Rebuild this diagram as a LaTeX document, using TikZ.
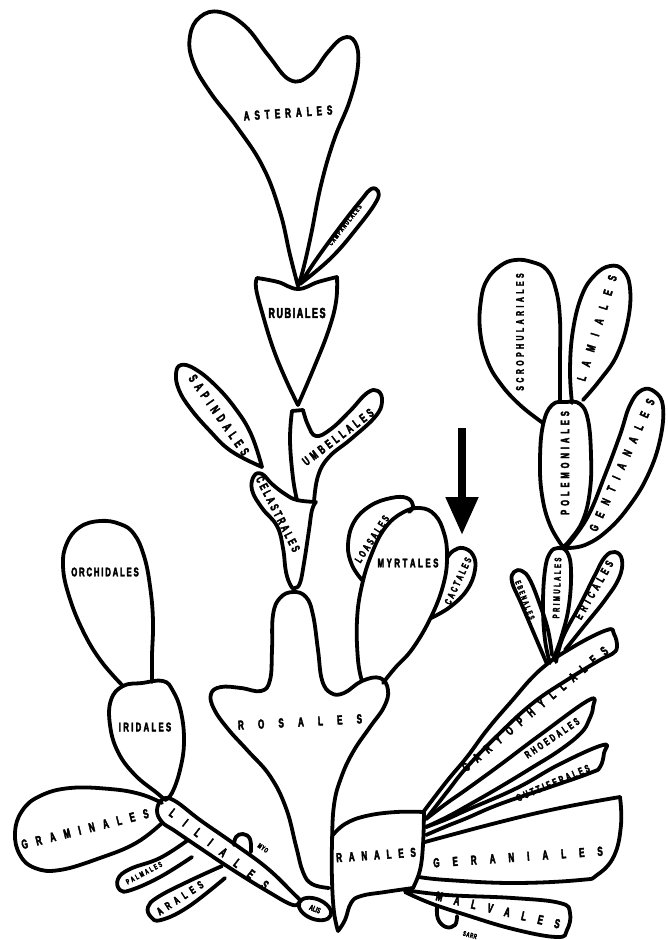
\documentclass[tikz,border=0pt]{standalone}
\usepackage{fontspec}
\usetikzlibrary{arrows.meta,shapes.geometric}
\newfontfamily\labf{Liberation Sans}[FakeStretch=0.62, FakeBold=3]
\ExplSyntaxOn
\NewDocumentCommand{\lsp}{m m}{\tl_map_inline:nn {#2}{##1\kern#1pt}\unkern}
\ExplSyntaxOff
\newcommand\lfs[1]{\fontsize{#1}{#1}\selectfont}
\tikzset{
  outl/.style={line width=3.8pt, line cap=round, line join=round},
  lab/.style={inner sep=0pt, font=\labf\bfseries\lfs{#1}},
  sm/.style={smooth, tension=0.7}
}
\begin{document}
\begin{tikzpicture}[x=1pt, y=-1pt]
\fill[white] (0,0) rectangle (667,940);
\useasboundingbox (0,0) rectangle (667,940);

% ---------- central axis ----------
% Asterales
\draw[outl] plot[sm] coordinates {(298,286) (290,255) (280,212) (263,167) (237,127) (210,92) (193,62) (190,36) (200,17) (220,12) (245,26) (268,55) (290,80) (310,75) (328,52) (343,38) (355,42) (358,65) (350,100) (334,140) (321,185) (311,235) (303,270) (298,286)};
% Campanulales
\draw[outl] plot[sm] coordinates {(300,284) (318,257) (343,223) (362,199) (371,189) (378,191) (376,202) (357,228) (331,258) (300,284)};
% Rubiales
\draw[outl] plot[sm] coordinates {(298,405) (286,380) (273,348) (262,312) (256,288) (257,278)};
\draw[outl] plot[sm] coordinates {(257,278) (278,282) (298,289) (318,282) (337,277)};
\draw[outl] plot[sm] coordinates {(337,277) (336,302) (328,332) (313,370) (298,405)};
% Umbellales with stem
\draw[outl] (292,411) -- (303,410);
\draw[outl] plot[sm] coordinates {(303,410) (308,425) (316,436) (331,429) (350,411) (367,393) (378,391) (382,402) (375,417) (351,439) (329,457) (318,476) (314,502)};
\draw[outl] plot[sm] coordinates {(292,411) (290,440) (293,478) (297,500)};
% Sapindales
\draw[outl] plot[sm] coordinates {(262,467) (251,434) (235,408) (215,385) (195,369) (181,365) (176,374) (179,390) (190,408) (209,430) (231,451) (262,467)};
% Celastrales
\draw[outl] plot[sm] coordinates {(316,502) (297,500) (285,494) (272,484) (262,474) (254,476) (252,490) (262,508) (277,526) (283,548) (286,572) (291,586) (295,588) (300,583) (304,563) (309,530) (312,510) (316,502)};
% Rosales
\draw[outl] plot[sm] coordinates {(329,888) (312,884) (303,872) (296,846) (286,808) (270,776) (248,751) (228,729) (214,709) (211,694) (221,687) (241,688) (261,691) (270,680) (272,650) (273,615) (280,598) (293,592) (306,597) (313,615) (318,650) (322,680) (331,693) (344,693) (362,681) (380,678) (388,690) (384,707) (370,727) (353,752) (341,778) (334,805) (332,843) (332,880) (334,912) (338,931)};
% Ranales
\draw[outl] plot[sm] coordinates {(332,836) (345,824) (366,816) (396,812) (424,812)};
\draw[outl] plot[sm] coordinates {(424,812) (423,845) (420,870) (413,888)};
\draw[outl] plot[sm] coordinates {(413,888) (385,892) (361,896) (351,903) (345,920) (338,931)};
% Alismatales
\node[draw, outl, ellipse, minimum width=34pt, minimum height=20pt, inner sep=0pt, rotate=-22, font=\labf\bfseries\lfs{8}] (alis) at (315,909) {ALIS};

% ---------- left (monocots) ----------
\draw[outl] plot[sm] coordinates {(123,686) (101,661) (83,631) (69,596) (63,566) (67,543) (80,527) (100,521) (120,524) (134,534) (144,556) (150,586) (153,621) (152,656) (152,682)};
\draw[outl] plot[sm] coordinates {(165,800) (157,793) (135,775) (118,752) (110,725) (111,700) (123,686) (142,683) (163,681) (173,691) (181,712) (184,742) (180,770) (172,793) (165,800)};
% Graminales
\draw[outl] plot[sm] coordinates {(162,803) (140,794) (110,789) (70,788) (40,796) (22,811) (15,833) (20,855) (35,868) (60,870) (100,858) (136,843) (162,823)};
% Liliales
\draw[outl] plot[sm] coordinates {(300,900) (293,893) (267,868) (233,843) (200,820) (175,801) (163,799) (157,810) (162,822) (175,831) (200,848) (233,870) (267,891) (293,905) (300,900)};
% Myo loop
\draw[outl] plot[sm] coordinates {(234,845) (236,837) (243,834) (250,839) (251,852)};
% Palmales
\draw[outl] plot[sm] coordinates {(188,840) (160,858) (130,869) (118,879) (120,890) (131,890) (160,877) (192,857)};
% Arales
\draw[outl] plot[sm] coordinates {(222,866) (187,882) (158,897) (148,907) (151,917) (161,920) (188,907) (225,878)};

% ---------- Myrtales group ----------
\draw[outl] plot[sm] coordinates {(362,681) (358,660) (357,620) (362,585) (372,553) (385,528) (402,513) (420,508) (435,515) (444,533) (447,555) (444,582) (432,615) (413,648) (395,668) (383,683)};
\draw[outl] plot[sm] coordinates {(362,580) (352,565) (348,545) (354,522) (370,506) (391,498) (407,498) (413,506) (409,512)};
\draw[outl] plot[sm] coordinates {(431,618) (450,607) (467,590) (475,570) (473,555) (463,548) (453,551) (447,558)};
% arrow
\coordinate (arA) at (462,428);
\coordinate (arB) at (462,535);
\draw[line width=8pt, -{Triangle[length=38pt, width=31pt]}] (arA) -- (arB);

% ---------- right (sympetalae) ----------
\draw[outl] plot[sm] coordinates {(543,423) (520,405) (500,383) (487,360) (480,330) (481,300) (487,280) (500,266) (515,260) (532,262) (547,270) (556,290) (560,320) (560,360) (560,402)};
\draw[outl] plot[sm] coordinates {(572,403) (570,370) (573,330) (582,295) (595,275) (610,266) (623,270) (630,288) (628,320) (617,355) (600,380) (583,400)};
\draw[outl] plot[sm] coordinates {(563,547) (550,525) (542,495) (540,460) (543,425) (552,405) (566,402) (580,404) (588,420) (591,455) (590,490) (583,520) (570,540) (563,547)};
\draw[outl] plot[sm] coordinates {(565,548) (587,518) (605,475) (620,435) (630,405) (642,390) (655,392) (663,407) (660,440) (648,475) (630,505) (608,530) (585,545) (565,548)};
% Primulales, Ebenales, Ericales
\draw[outl] plot[sm] coordinates {(550,663) (545,640) (543,605) (545,570) (550,553) (558,548) (567,552) (571,570) (569,605) (562,635) (553,660)};
\draw[outl] plot[sm] coordinates {(547,664) (535,636) (521,603) (512,582) (514,572) (522,571) (530,580) (540,605) (548,630) (552,655)};
\draw[outl] plot[sm] coordinates {(556,662) (563,637) (580,605) (595,575) (605,557) (615,552) (622,560) (619,578) (605,600) (585,625) (565,650)};
% Caryophyllales
\draw[outl] plot[sm] coordinates {(424,811) (447,781) (467,757) (487,730) (510,703) (540,670) (573,647) (607,630) (614,634) (617,647) (612,654) (600,660) (567,680) (533,703) (500,733) (467,767) (447,792) (426,819)};
% Rhoedales
\draw[outl] plot[sm] coordinates {(426,819) (447,803) (467,789) (500,765) (540,735) (589,700) (593,707) (589,720) (581,733) (560,750) (533,767) (500,787) (467,806) (447,817) (426,827)};
% Guttiferales
\draw[outl] plot[sm] coordinates {(426,827) (447,819) (467,810) (517,788) (560,764) (603,745) (604,753) (600,767) (590,773) (550,787) (500,804) (467,818) (447,826) (426,835)};
% Geraniales
\draw[outl] plot[sm] coordinates {(425,842) (500,822) (560,808) (620,797)};
\draw[outl] plot[sm] coordinates {(620,797) (621,825) (614,856) (597,875) (580,880) (513,883) (447,880) (419,877)};
% Malvales
\draw[outl] plot[sm] coordinates {(405,890) (447,895) (513,898) (560,903) (570,913) (567,930) (557,937) (513,929) (463,914) (430,903) (405,892)};
% Sarr loop
\draw[outl] plot[sm] coordinates {(437,906) (438,919) (446,927) (455,925) (457,916)};

% ---------- labels ----------
\node[lab=13, rotate=4] (tAst) at (288,113) {\lsp{5}{ASTERALES}};
\node[lab=7, rotate=52] (tCam) at (345,225) {\lsp{1.2}{CAMPANULALES}};
\node[lab=14.5] (tRub) at (297,313) {\lsp{1.6}{RUBIALES}};
\node[lab=13, rotate=-55] (tSap) at (219,415) {\lsp{4.8}{SAPINDALES}};
\node[lab=12.5, rotate=37] (tUmb) at (338,437) {\lsp{3.6}{UMBELLALES}};
\node[lab=12, rotate=-63] (tCel) at (278,514) {\lsp{2.8}{CELASTRALES}};
\node[lab=12.5] (tOrc) at (105,572) {\lsp{1.8}{ORCHIDALES}};
\node[lab=12.5] (tIri) at (145,727) {\lsp{2.3}{IRIDALES}};
\node[lab=13, rotate=14] (tGra) at (85,829) {\lsp{8.5}{GRAMINALES}};
\node[lab=13, rotate=-38] (tLil) at (219,849) {\lsp{12.3}{LILIALES}};
\node[lab=7.5, rotate=28] (tPal) at (144,873) {\lsp{2}{PALMALES}};
\node[lab=11, rotate=33] (tAra) at (180,898) {\lsp{5}{ARALES}};
\node[lab=7, rotate=-35] (tMyo) at (263,848) {\lsp{0.6}{MYO}};
\node[lab=13, rotate=3] (tRos) at (300,722) {\lsp{14.2}{ROSALES}};
\node[lab=13, rotate=4] (tRan) at (376,855) {\lsp{6.8}{RANALES}};
\node[lab=13, rotate=4] (tGer) at (518,857) {\lsp{13}{GERANIALES}};
\node[lab=13, rotate=-13] (tMal) at (498,910) {\lsp{11.8}{MALVALES}};
\node[lab=7, rotate=-15] (tSar) at (470,935) {\lsp{0.6}{SARR}};
\node[lab=12.5] (tMyr) at (408,563) {\lsp{2.6}{MYRTALES}};
\node[lab=10.5, rotate=57] (tLoa) at (372,539) {\lsp{2.6}{LOASALES}};
\node[lab=10, rotate=65] (tCac) at (458,581) {\lsp{2.4}{CACTALES}};
\node[lab=11, rotate=90] (tScr) at (520,332) {\lsp{3.5}{SCROPHULARIALES}};
\node[lab=12.5, rotate=73] (tLam) at (597,328) {\lsp{10}{LAMIALES}};
\node[lab=12, rotate=90] (tPol) at (565,463) {\lsp{4}{POLEMONIALES}};
\node[lab=12.5, rotate=66] (tGen) at (622,465) {\lsp{8.8}{GENTIANALES}};
\node[lab=8, rotate=-69] (tEbe) at (525,600) {\lsp{2}{EBENALES}};
\node[lab=9.5, rotate=88] (tPri) at (557,588) {\lsp{2.5}{PRIMULALES}};
\node[lab=11.5, rotate=60] (tEri) at (594,590) {\lsp{4.2}{ERICALES}};
\node[lab=13, rotate=40] (tCar) at (535,709) {\lsp{8.4}{CARYOPHYLLALES}};
\node[lab=10.5, rotate=34] (tRho) at (552,738) {\lsp{2.8}{RHOEDALES}};
\node[lab=10.5, rotate=23] (tGut) at (553,783) {\lsp{2.6}{GUTTIFERALES}};
\end{tikzpicture}
\end{document}
